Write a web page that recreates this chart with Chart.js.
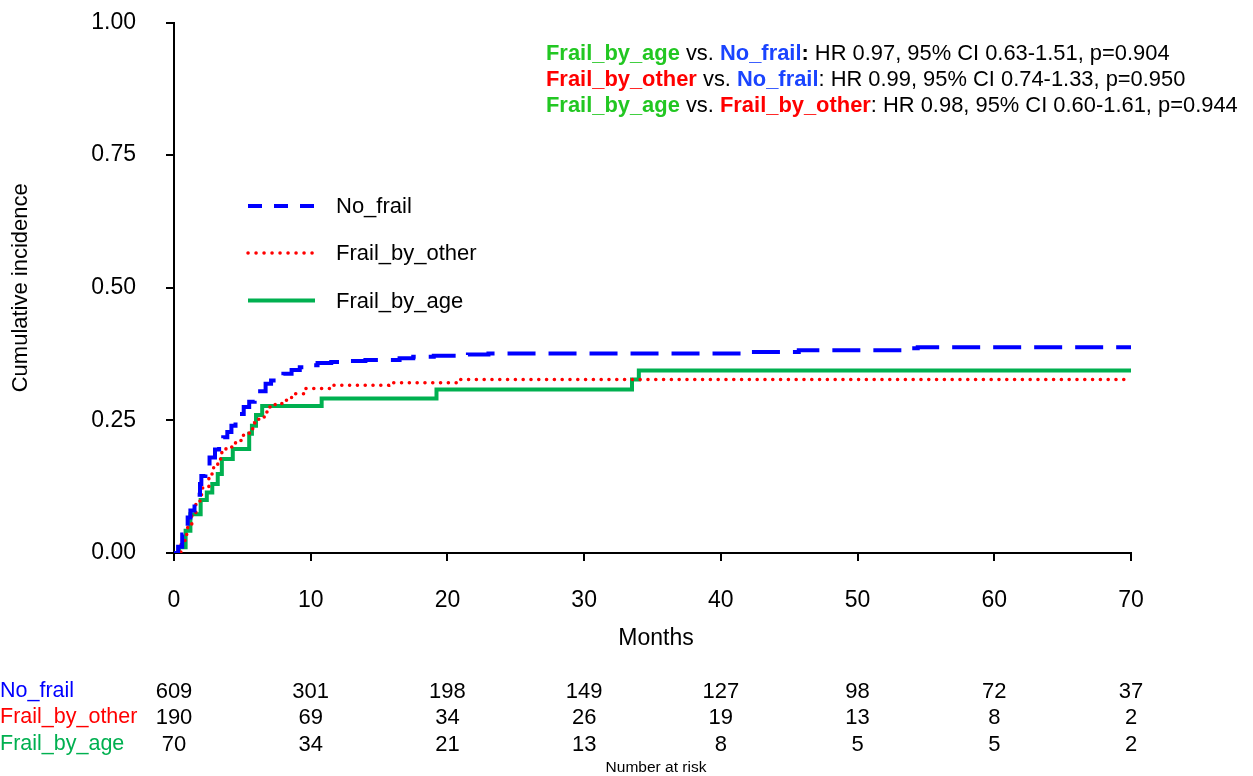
<!DOCTYPE html>
<html>
<head>
<meta charset="utf-8">
<title>Cumulative incidence</title>
<script src="https://cdn.jsdelivr.net/npm/chart.js@4.4.1/dist/chart.umd.min.js"></script>
<style>
  body { margin: 0; background: #fff; }
  #kmChart { display: block; }
</style>
</head>
<body>
<canvas id="kmChart" width="1253" height="776"></canvas>
<script>
// Ejes
const xTicks = [0, 10, 20, 30, 40, 50, 60, 70];
const yTicks = [0, 0.25, 0.5, 0.75, 1];
const groups = ['No_frail', 'Frail_by_other', 'Frail_by_age'];

// Curvas (meses donde cambia el escalón, incidencia acumulada tras el escalón)
const noFrailMonths = [0, 0.3, 0.6, 0.8, 1.0, 1.2, 1.5, 1.7, 1.9, 2.0, 2.3, 2.6, 3.0, 3.3, 3.6, 3.9, 4.2, 4.5, 4.8, 5.1, 5.5, 5.9, 6.3, 6.7, 7.1, 7.5, 8.0, 8.6, 9.2, 9.8, 10.5, 11.5, 12.6, 14.0, 16.5, 17.5, 19.0, 21.5, 23.0, 41.8, 45.7, 53.9, 54.4, 70];
const noFrailCum    = [0, 0.012, 0.035, 0.05, 0.067, 0.08, 0.092, 0.11, 0.13, 0.145, 0.16, 0.18, 0.195, 0.206, 0.218, 0.228, 0.24, 0.25, 0.262, 0.275, 0.285, 0.293, 0.305, 0.319, 0.325, 0.33, 0.338, 0.345, 0.35, 0.354, 0.358, 0.36, 0.362, 0.364, 0.367, 0.37, 0.372, 0.374, 0.376, 0.379, 0.382, 0.386, 0.388, 0.388];

const frailOtherMonths = [0, 0.5, 0.8, 1.0, 1.3, 1.6, 1.9, 2.1, 2.55, 2.9, 3.2, 3.5, 3.8, 4.5, 5.0, 5.5, 5.9, 6.2, 6.6, 6.9, 7.4, 7.9, 8.6, 9.6, 11.6, 15.7, 20.7, 70];
const frailOtherCum    = [0, 0.016, 0.035, 0.054, 0.07, 0.092, 0.11, 0.124, 0.149, 0.163, 0.177, 0.19, 0.2, 0.212, 0.222, 0.234, 0.245, 0.256, 0.266, 0.275, 0.282, 0.288, 0.3, 0.31, 0.316, 0.321, 0.327, 0.327];

const frailAgeMonths = [0, 0.36, 0.85, 1.2, 1.95, 2.4, 2.8, 3.2, 3.5, 4.3, 5.5, 5.7, 6.0, 6.45, 10.8, 19.2, 33.5, 34.0, 70];
const frailAgeCum    = [0, 0.011, 0.042, 0.073, 0.1, 0.114, 0.13, 0.149, 0.177, 0.196, 0.225, 0.24, 0.26, 0.277, 0.291, 0.308, 0.327, 0.344, 0.344];

// Número en riesgo (en cada tick del eje x)
const riskNoFrail = [609, 301, 198, 149, 127, 98, 72, 37];
const riskFrailOther = [190, 69, 34, 26, 19, 13, 8, 2];
const riskFrailAge = [70, 34, 21, 13, 8, 5, 5, 2];

// Texto de comparaciones
const statLines = [
    [['Frail_by_age', 'green', true], [' vs. ', 'black', false], ['No_frail', 'blue', true], [':', 'black', true], [' HR 0.97, 95% CI 0.63-1.51, p=0.904', 'black', false]],
    [['Frail_by_other', 'red', true], [' vs. ', 'black', false], ['No_frail', 'blue', true], [': HR 0.99, 95% CI 0.74-1.33, p=0.950', 'black', false]],
    [['Frail_by_age', 'green', true], [' vs. ', 'black', false], ['Frail_by_other', 'red', true], [': HR 0.98, 95% CI 0.60-1.61, p=0.944', 'black', false]]
];

const FONT = "'Liberation Sans', Arial, sans-serif";
const lineColors = ['#0000ff', '#ff0000', '#00b050'];
const textColors = { green: '#22c722', blue: '#1a44ff', red: '#ff0000', black: '#000000' };

function toPoints(months, cum) {
    return months.map((m, i) => ({ x: m, y: cum[i] }));
}

// Plugin para leyenda, texto de HR, título x y tabla de riesgo
const extrasPlugin = {
    id: 'extras',
    afterDraw(chart) {
        const ctx = chart.ctx;
        const xs = chart.scales.x;
        ctx.save();

        // Texto HR
        const statBase = [60, 86, 112];
        statLines.forEach((line, li) => {
            let x = 546;
            ctx.textAlign = 'left';
            ctx.textBaseline = 'alphabetic';
            line.forEach(seg => {
                ctx.font = (seg[2] ? 'bold ' : '') + '21.9px ' + FONT;
                ctx.fillStyle = textColors[seg[1]];
                ctx.fillText(seg[0], x, statBase[li]);
                x += ctx.measureText(seg[0]).width;
            });
        });

        // Leyenda
        const legY = [206, 253, 300.5];
        const dashes = [[14, 12], [0.1, 7.9], []];
        const widths = [4, 3.5, 4];
        groups.forEach((g, i) => {
            ctx.beginPath();
            ctx.strokeStyle = lineColors[i];
            ctx.lineWidth = widths[i];
            ctx.lineCap = i === 1 ? 'round' : 'butt';
            ctx.setLineDash(dashes[i]);
            ctx.moveTo(248, legY[i]);
            ctx.lineTo(315, legY[i]);
            ctx.stroke();
            ctx.setLineDash([]);
            ctx.fillStyle = '#000';
            ctx.font = '22px ' + FONT;
            ctx.textAlign = 'left';
            ctx.textBaseline = 'middle';
            ctx.fillText(g, 336, legY[i] + 1);
        });

        // Título eje x
        ctx.fillStyle = '#000';
        ctx.font = '23px ' + FONT;
        ctx.textAlign = 'center';
        ctx.textBaseline = 'middle';
        ctx.fillText('Months', 656, 639);

        // Tabla de número en riesgo
        const rows = [riskNoFrail, riskFrailOther, riskFrailAge];
        const rowY = [691.5, 717.5, 744.5];
        rows.forEach((row, r) => {
            ctx.font = '21.5px ' + FONT;
            ctx.textAlign = 'left';
            ctx.fillStyle = lineColors[r];
            ctx.fillText(groups[r], 0, rowY[r]);
            ctx.font = '22px ' + FONT;
            ctx.textAlign = 'center';
            ctx.fillStyle = '#000';
            row.forEach((n, i) => {
                ctx.fillText(String(n), xs.getPixelForValue(xTicks[i]), rowY[r]);
            });
        });
        ctx.font = '15.5px ' + FONT;
        ctx.fillText('Number at risk', 656, 768);

        ctx.restore();
    }
};

const kmChart = new Chart(document.getElementById('kmChart'), {
    type: 'line',
    data: {
        datasets: [{
            label: groups[0],
            data: toPoints(noFrailMonths, noFrailCum),
            borderColor: lineColors[0],
            borderWidth: 4,
            borderDash: [28, 13],
            stepped: true,
            pointRadius: 0,
            fill: false
        }, {
            label: groups[1],
            data: toPoints(frailOtherMonths, frailOtherCum),
            borderColor: lineColors[1],
            borderWidth: 3.5,
            borderDash: [0.1, 7.7],
            borderCapStyle: 'round',
            stepped: true,
            pointRadius: 0,
            fill: false
        }, {
            label: groups[2],
            data: toPoints(frailAgeMonths, frailAgeCum),
            borderColor: lineColors[2],
            borderWidth: 4,
            stepped: true,
            pointRadius: 0,
            fill: false
        }]
    },
    options: {
        responsive: false,
        animation: false,
        layout: { padding: { top: 22.5, right: 122, bottom: 0, left: 0 } },
        plugins: {
            legend: { display: false },
            tooltip: { enabled: false }
        },
        scales: {
            x: {
                type: 'linear',
                min: 0,
                max: 70,
                afterFit(scale) { scale.height = 223; },
                afterBuildTicks(scale) { scale.ticks = xTicks.map(v => ({ value: v })); },
                ticks: { color: '#000', font: { size: 23, family: FONT }, padding: 26, maxRotation: 0 },
                grid: { drawOnChartArea: false, drawTicks: true, tickLength: 8, color: '#000', lineWidth: 2 },
                border: { display: true, color: '#000', width: 2 }
            },
            y: {
                min: 0,
                max: 1,
                afterFit(scale) {
                    scale.width = 174;
                    scale.paddingTop = 0;
                    scale.paddingBottom = 0;
                },
                afterBuildTicks(scale) { scale.ticks = yTicks.map(v => ({ value: v })); },
                ticks: {
                    color: '#000',
                    font: { size: 23, family: FONT },
                    padding: 30,
                    callback: v => v.toFixed(2)
                },
                grid: { drawOnChartArea: false, drawTicks: true, tickLength: 8, color: '#000', lineWidth: 2 },
                border: { display: true, color: '#000', width: 2 },
                title: {
                    display: true,
                    text: 'Cumulative incidence',
                    color: '#000',
                    font: { size: 22, family: FONT },
                    padding: { top: 8, bottom: 0 }
                }
            }
        }
    },
    plugins: [extrasPlugin]
});
</script>
</body>
</html>
